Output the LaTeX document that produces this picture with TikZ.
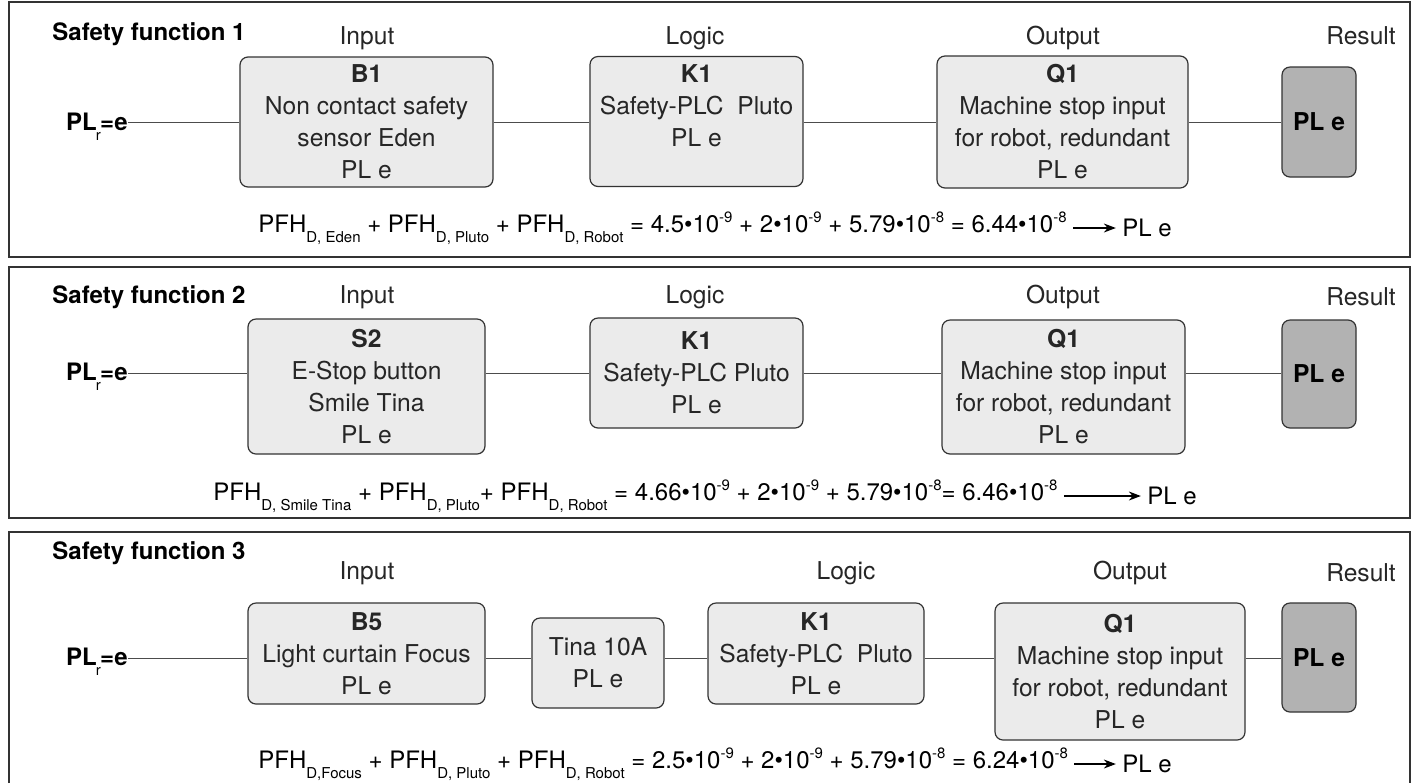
\documentclass[tikz,border=0pt]{standalone}
\usepackage{fontspec}
\setmainfont{TeX Gyre Heros}
\usetikzlibrary{shapes,arrows.meta}

\newcommand{\lowsub}[1]{\raisebox{-0.75ex}{\fontsize{7.5}{7.5}\selectfont #1}}
\newcommand{\hisup}[1]{\raisebox{0.85ex}{\fontsize{7.5}{7.5}\selectfont #1}}
\newcommand{\plreq}{PL\kern-0.5pt\raisebox{-0.8ex}{\fontsize{7.5}{7.5}\selectfont\mdseries r}\kern-0.3pt=e}

\tikzset{
  panel/.style={draw=black!80,line width=1pt},
  unitbox/.style={shape=rectangle,rounded corners=4pt,draw=black!80,fill=black!8,line width=0.6pt,align=center,inner sep=0pt,font=\fontsize{12.3}{16}\selectfont,text=black!85},
  resultbox/.style={unitbox,fill=black!30,font=\fontsize{12.3}{16}\selectfont\bfseries,text=black},
  head/.style={font=\fontsize{12.3}{14}\selectfont,text=black!85},
  title/.style={anchor=west,inner sep=0pt,font=\fontsize{12}{14}\selectfont\bfseries},
  plr/.style={anchor=base east,inner sep=0pt,font=\fontsize{12}{14}\selectfont\bfseries},
  formula/.style={anchor=west,inner sep=0pt,font=\fontsize{12}{14}\selectfont},
  link/.style={draw=black!70,line width=0.5pt},
  leadsto/.style={draw=black,line width=0.6pt,-{Stealth[length=6pt,width=4.5pt]},shorten <=3pt,shorten >=3pt},
}

\begin{document}
\begin{tikzpicture}[x=0.5pt,y=-0.5pt]
\useasboundingbox (0,0) rectangle (1416,783);

% safety function 1
\draw[panel] (9,2) rectangle (1410,257);
\node[title] (t1) at (52,34) {Safety function 1};
\node[head] (in1) at (367,38) {Input};
\node[head] (lo1) at (695,38) {Logic};
\node[head] (ou1) at (1063,38) {Output};
\node[head] (re1) at (1361,36) {Result};
\coordinate (row1) at (0,122);
\node[plr] (plr1) at (128,130) {\plreq};
\node[unitbox,minimum width=126.5pt,minimum height=65pt] (b1) at (366.5,122) {\textbf{B1}\\Non contact safety\\sensor Eden\\PL e};
\node[unitbox,minimum width=106.5pt,minimum height=65pt] (k1) at (696.5,121.5) {\textbf{K1}\\Safety-PLC\ \ Pluto\\PL e\\\mbox{}};
\node[unitbox,minimum width=125.5pt,minimum height=66pt] (q1) at (1062.5,122) {\textbf{Q1}\\Machine stop input\\for robot, redundant\\PL e};
\node[resultbox,minimum width=37pt,minimum height=55pt] (r1) at (1319,122) {PL e};
\path[link] (plr1.east |- row1) edge (b1.west |- row1);
\path[link] (b1.east |- row1) edge (k1.west |- row1);
\path[link] (k1.east |- row1) edge (q1.west |- row1);
\path[link] (q1.east |- row1) edge (r1.west |- row1);
\node[formula] (f1) at (258,228) {PFH\lowsub{D, Eden} + PFH\lowsub{D, Pluto} + PFH\lowsub{D, Robot} = 4.5•10\hisup{-9} + 2•10\hisup{-9} + 5.79•10\hisup{-8} = 6.44•10\hisup{-8}};
\node[formula,anchor=east] (pl1) at (1172,228) {PL e};
\draw[leadsto] (f1) -- (pl1);

% safety function 2
\draw[panel] (9,267) rectangle (1410,518);
\node[title] (t2) at (52,297) {Safety function 2};
\node[head] (in2) at (367,297) {Input};
\node[head] (lo2) at (695,297) {Logic};
\node[head] (ou2) at (1063,297) {Output};
\node[head] (re2) at (1361,297) {Result};
\coordinate (row2) at (0,373);
\node[plr] (plr2) at (128,380) {\plreq};
\node[unitbox,minimum width=118.5pt,minimum height=67.5pt] (s2) at (366.5,386.5) {\textbf{S2}\\E-Stop button\\Smile Tina\\PL e};
\node[unitbox,minimum width=106.5pt,minimum height=55pt] (k2) at (696.5,373) {\textbf{K1}\\Safety-PLC Pluto\\PL e};
\node[unitbox,minimum width=121.5pt,minimum height=67pt] (q2) at (1063.5,387) {\textbf{Q1}\\Machine stop input\\for robot, redundant\\PL e};
\node[resultbox,minimum width=37pt,minimum height=54pt] (r2) at (1319,374) {PL e};
\path[link] (plr2.east |- row2) edge (s2.west |- row2);
\path[link] (s2.east |- row2) edge (k2.west |- row2);
\path[link] (k2.east |- row2) edge (q2.west |- row2);
\path[link] (q2.east |- row2) edge (r2.west |- row2);
\node[formula] (f2) at (213,496) {PFH\lowsub{D, Smile Tina} + PFH\lowsub{D, Pluto}+ PFH\lowsub{D, Robot} = 4.66•10\hisup{-9} + 2•10\hisup{-9} + 5.79•10\hisup{-8}= 6.46•10\hisup{-8}};
\node[formula,anchor=east] (pl2) at (1197,496) {PL e};
\draw[leadsto] (f2) -- (pl2);

% safety function 3
\draw[panel] (9,783) -- (9,532) -- (1410,532) -- (1410,783);
\node[title] (t3) at (52,553) {Safety function 3};
\node[head] (in3) at (367,573) {Input};
\node[head] (lo3) at (846,573) {Logic};
\node[head] (ou3) at (1130,573) {Output};
\node[head] (re3) at (1361,573) {Result};
\coordinate (row3) at (0,658);
\node[plr] (plr3) at (128,665) {\plreq};
\node[unitbox,minimum width=118.5pt,minimum height=50.5pt] (b5) at (366.5,653.5) {\textbf{B5}\\Light curtain Focus\\PL e};
\node[unitbox,minimum width=66pt,minimum height=45pt] (t10) at (598,663) {Tina 10A\\PL e};
\node[unitbox,minimum width=108pt,minimum height=50.5pt] (k3) at (816,653.5) {\textbf{K1}\\Safety-PLC\ \ Pluto\\PL e};
\node[unitbox,minimum width=125pt,minimum height=68.5pt] (q3) at (1120,671.5) {\textbf{Q1}\\Machine stop input\\for robot, redundant\\PL e};
\node[resultbox,minimum width=37pt,minimum height=54.5pt] (r3) at (1319,657.5) {PL e};
\path[link] (plr3.east |- row3) edge (b5.west |- row3);
\path[link] (b5.east |- row3) edge (t10.west |- row3);
\path[link] (t10.east |- row3) edge (k3.west |- row3);
\path[link] (k3.east |- row3) edge (q3.west |- row3);
\path[link] (q3.east |- row3) edge (r3.west |- row3);
\node[formula] (f3) at (258,764) {PFH\lowsub{D,Focus} + PFH\lowsub{D, Pluto} + PFH\lowsub{D, Robot} = 2.5•10\hisup{-9} + 2•10\hisup{-9} + 5.79•10\hisup{-8} = 6.24•10\hisup{-8}};
\node[formula,anchor=east] (pl3) at (1172,764) {PL e};
\draw[leadsto] (f3) -- (pl3);
\end{tikzpicture}
\end{document}
